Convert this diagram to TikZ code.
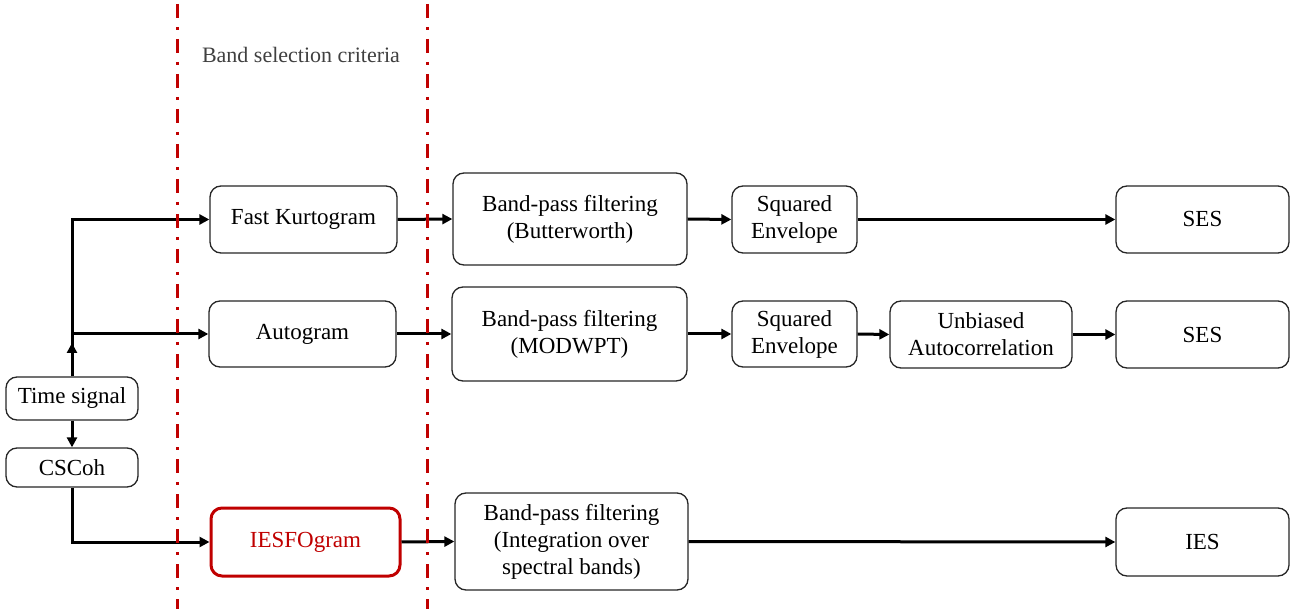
\documentclass[tikz,border=0pt]{standalone}
\usepackage{xcolor}
\usepackage{fontspec}
\setmainfont{Liberation Serif}
\usetikzlibrary{arrows.meta}
\definecolor{DarkRed}{RGB}{192,0,0}
\definecolor{TextGray}{RGB}{64,64,64}

\begin{document}
\begin{tikzpicture}[x=1pt,y=-1pt,
        block/.style={draw=black!85,line width=1.3pt,rounded corners=11pt,fill=white,
            inner sep=0pt,align=center,font=\fontsize{23}{27}\selectfont},
        flow/.style={line width=3pt,-{Triangle[length=10pt,width=10pt]}},
        criteria/.style={DarkRed,line width=3pt,dash pattern=on 14pt off 9pt on 3pt off 9pt}]

        \useasboundingbox (0,0) rectangle (1301,609);

        % input side
        \node[block,minimum width=132pt,minimum height=43pt] (ts) at (72,398.5) {Time signal};
        \node[block,minimum width=132pt,minimum height=39pt] (cscoh) at (72,467.5) {CSCoh};

        % band selection
        \node[block,minimum width=187pt,minimum height=67pt] (fk) at (303.5,219.5) {Fast Kurtogram};
        \node[block,minimum width=187pt,minimum height=66pt] (auto) at (302.5,334) {Autogram};
        \node[block,draw=DarkRed,text=DarkRed,line width=3pt,minimum width=189pt,minimum height=68pt] (iesfo) at (305.5,542) {IESFOgram};

        % filtering
        \node[block,minimum width=234pt,minimum height=92pt] (bpfa) at (570,219) {Band-pass filtering\\(Butterworth)};
        \node[block,minimum width=235pt,minimum height=94pt] (bpfb) at (569.5,334) {Band-pass filtering\\(MODWPT)};
        \node[block,minimum width=233pt,minimum height=97pt] (bpfc) at (571.5,541.5) {Band-pass filtering\\(Integration over\\spectral bands)};

        % envelope
        \node[block,minimum width=125pt,minimum height=67pt] (sqa) at (794.5,219.5) {Squared\\Envelope};
        \node[block,minimum width=125pt,minimum height=66pt] (sqb) at (794.5,334) {Squared\\Envelope};
        \node[block,minimum width=182pt,minimum height=67pt] (unb) at (981,334.5) {Unbiased\\Autocorrelation};

        % outputs
        \node[block,minimum width=173pt,minimum height=67pt] (sesa) at (1202.5,219.5) {SES};
        \node[block,minimum width=173pt,minimum height=67pt] (sesb) at (1202.5,334.5) {SES};
        \node[block,minimum width=173pt,minimum height=68pt] (ies) at (1202.5,542) {IES};

        \node[text=TextGray,font=\fontsize{22}{24}\selectfont] (crit) at (301,55) {Band selection criteria};

        % connectors
        \coordinate (split) at (72,334);
        \draw[line width=3pt] (ts.north) -- (split);
        \draw[flow,shorten >=9pt] (ts.north) -- (split);
        \draw[flow] (split) -- (split |- fk.west) -- (fk.west);
        \draw[flow] (split) -- (auto.west);
        \draw[flow] (ts.south) -- (cscoh.north);
        \draw[flow] (cscoh.south) |- (iesfo.west);

        \foreach \a/\b in {fk/bpfa,bpfa/sqa,sqa/sesa,auto/bpfb,bpfb/sqb,sqb/unb,unb/sesb,iesfo/bpfc,bpfc/ies}
            \draw[flow] (\a.east) -- (\b.west);

        % criteria limits
        \draw[criteria] (177,4) -- (177,609);
        \draw[criteria] (427,4) -- (427,609);
    \end{tikzpicture}
\end{document}
